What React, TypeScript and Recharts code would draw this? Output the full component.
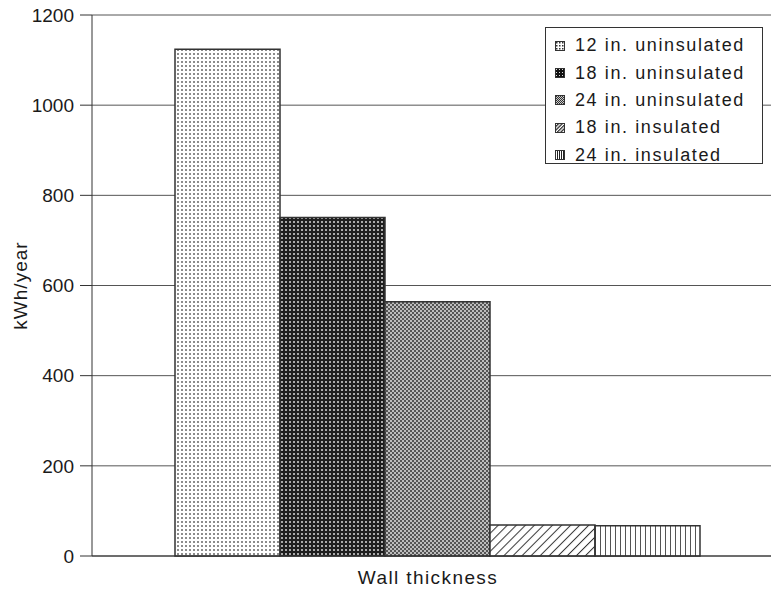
import React from 'react';
import { BarChart, Bar, XAxis, YAxis, CartesianGrid, Legend } from 'recharts';

if (typeof document !== 'undefined') document.body.style.margin = '0';

const categories = ['Wall thickness'];
const seriesNames = ['12 in. uninsulated', '18 in. uninsulated', '24 in. uninsulated', '18 in. insulated', '24 in. insulated'];
const seriesKeys = ['u12', 'u18', 'u24', 'i18', 'i24'];
const u12 = [1124];
const u18 = [751];
const u24 = [564];
const i18 = [69];
const i24 = [67];
const yTicks = [0, 200, 400, 600, 800, 1000, 1200];

const values = [u12, u18, u24, i18, i24];
const data = categories.map((name, i) => {
  const row: Record<string, any> = { name };
  seriesKeys.forEach((k, s) => { row[k] = values[s][i]; });
  return row;
});

const FONT = '"Liberation Sans", Arial, Helvetica, sans-serif';
const TEXT = '#1a1a1a';

const Patterns = () => (
  <defs>
    <pattern id="pat-u12" width="4" height="4" patternUnits="userSpaceOnUse">
      <rect width="4" height="4" fill="#fff" />
      <rect x="1" y="1" width="2" height="2" fill="#999" />
      <rect x="1.5" y="1.5" width="1" height="1" fill="#666" />
    </pattern>
    <pattern id="pat-u18" width="4" height="4" patternUnits="userSpaceOnUse">
      <rect width="4" height="4" fill="#1e1e1e" />
      <rect x="1" y="1" width="2" height="2" fill="#999" />
      <rect x="1.5" y="1.5" width="1" height="1" fill="#ddd" />
    </pattern>
    <pattern id="pat-u24" width="4" height="4" patternUnits="userSpaceOnUse">
      <rect width="4" height="4" fill="#bdbdbd" />
      <rect x="0" y="0" width="2" height="2" fill="#555" />
      <rect x="2" y="2" width="2" height="2" fill="#555" />
    </pattern>
    <pattern id="pat-i18" width="6.4" height="6.4" patternUnits="userSpaceOnUse" patternTransform="rotate(45)">
      <rect width="6.4" height="6.4" fill="#fff" />
      <line x1="0.5" y1="0" x2="0.5" y2="6.4" stroke="#333" strokeWidth="1" />
    </pattern>
    <pattern id="pat-i24" width="5" height="5" patternUnits="userSpaceOnUse">
      <rect width="5" height="5" fill="#fff" />
      <line x1="0.5" y1="0" x2="0.5" y2="5" stroke="#555" strokeWidth="1" />
    </pattern>
    <pattern id="sw-u12" width="3" height="3" patternUnits="userSpaceOnUse">
      <rect width="3" height="3" fill="#fff" />
      <rect x="1" y="1" width="1.5" height="1.5" fill="#333" />
    </pattern>
    <pattern id="sw-u18" width="3" height="3" patternUnits="userSpaceOnUse">
      <rect width="3" height="3" fill="#111" />
      <rect x="1" y="1" width="1" height="1" fill="#ddd" />
    </pattern>
    <pattern id="sw-u24" width="2" height="2" patternUnits="userSpaceOnUse">
      <rect width="2" height="2" fill="#ccc" />
      <rect x="0" y="0" width="1" height="1" fill="#333" />
      <rect x="1" y="1" width="1" height="1" fill="#333" />
    </pattern>
    <pattern id="sw-i18" width="2.5" height="2.5" patternUnits="userSpaceOnUse" patternTransform="rotate(45)">
      <rect width="2.5" height="2.5" fill="#fff" />
      <line x1="0.6" y1="0" x2="0.6" y2="2.5" stroke="#222" strokeWidth="1.2" />
    </pattern>
    <pattern id="sw-i24" width="2" height="2" patternUnits="userSpaceOnUse">
      <rect width="2" height="2" fill="#fff" />
      <line x1="0.5" y1="0" x2="0.5" y2="2" stroke="#222" strokeWidth="1" />
    </pattern>
  </defs>
);

const LegendBox = () => (
  <div
    style={{
      border: '1px solid #333',
      background: '#fff',
      width: 216,
      height: 131,
      paddingTop: 4,
      fontFamily: FONT,
      fontSize: 18,
      letterSpacing: 1.6,
      color: TEXT,
      textAlign: 'left',
    }}
  >
    {seriesKeys.map((k, i) => (
      <div key={k} style={{ display: 'flex', alignItems: 'center', height: 27.4, paddingLeft: 9 }}>
        <svg width={10} height={10} style={{ marginRight: 10, flex: 'none' }}>
          <rect x={0.5} y={0.5} width={9} height={9} fill={`url(#sw-${k})`} stroke="#333" />
        </svg>
        <span>{seriesNames[i]}</span>
      </div>
    ))}
  </div>
);

export default function App() {
  return (
    <div style={{ width: 771, height: 590, background: '#fff' }}>
      <BarChart
        width={771}
        height={590}
        data={data}
        margin={{ top: 15, right: 0, bottom: 0, left: 0 }}
        barGap={0}
        barCategoryGap={72}
      >
        <Patterns />
        <CartesianGrid horizontal vertical={false} stroke="#555" strokeWidth={1} />
        <XAxis
          dataKey="name"
          height={34}
          padding={{ left: 11, right: 0 }}
          tickLine={false}
          tickSize={8}
          tickMargin={7}
          stroke="#333"
          tick={{ fill: TEXT, fontSize: 19, fontFamily: FONT, letterSpacing: 1.4, dx: -9 }}
        />
        <YAxis
          width={92}
          domain={[0, 1200]}
          ticks={yTicks}
          interval={0}
          tickSize={12}
          tickMargin={6}
          stroke="#333"
          tick={{ fill: TEXT, fontSize: 19, fontFamily: FONT }}
          label={{
            value: 'kWh/year',
            angle: -90,
            position: 'center',
            dx: -26,
            style: { fill: TEXT, fontSize: 19, fontFamily: FONT, letterSpacing: 1 },
          }}
        />
        <Legend
          layout="vertical"
          align="center"
          verticalAlign="middle"
          content={<LegendBox />}
          wrapperStyle={{ position: 'absolute', left: 545, top: 27, width: 'auto', height: 'auto' }}
        />
        {seriesKeys.map((k, i) => (
          <Bar
            key={k}
            dataKey={k}
            name={seriesNames[i]}
            fill={`url(#pat-${k})`}
            stroke="#333"
            strokeWidth={1.5}
            isAnimationActive={false}
          />
        ))}
      </BarChart>
    </div>
  );
}
